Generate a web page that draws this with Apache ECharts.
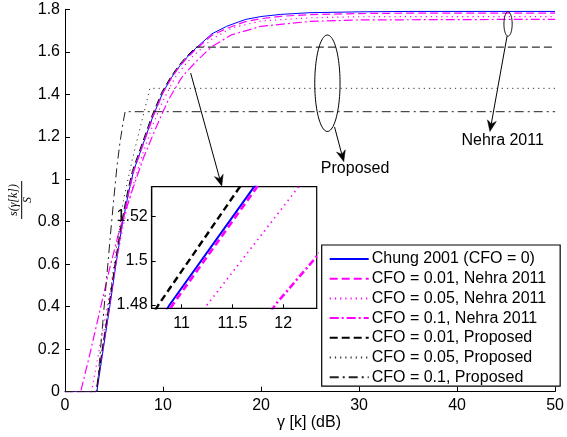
<!DOCTYPE html>
<html>
<head>
<meta charset="utf-8">
<script src="https://cdn.jsdelivr.net/npm/echarts@6/dist/echarts.min.js"></script>
<style>
  html, body { margin: 0; padding: 0; background: #fff; }
  #chart { width: 567px; height: 437px; }
</style>
</head>
<body>
<div id="chart"></div>
<script>
// Normalised spectral efficiency s(gamma[k])/S versus SNR gamma[k] in dB.
const gammaChung = [0, 3.25, 3.9, 4.6, 5.2, 5.85, 6.5, 7.0, 8.0, 9.0, 10.0, 10.88, 11.72, 12.4, 13.3, 15.0, 16.5, 18.4, 20, 22, 25, 30, 35, 50];
const sChung     = [0, 0, 0.2, 0.41, 0.6, 0.79, 0.94, 1.04, 1.17, 1.3, 1.41, 1.48, 1.534, 1.572, 1.615, 1.685, 1.72, 1.752, 1.766, 1.776, 1.784, 1.788, 1.79, 1.79];

const gammaNehra001 = [0, 3.15, 3.85, 4.55, 5.17, 5.85, 6.52, 7.03, 8.03, 9.03, 10.03, 10.91, 11.75, 12.45, 13.35, 15.0, 16.5, 18.4, 20, 22, 25, 30, 35, 50];
const sNehra001     = [0, 0, 0.2, 0.41, 0.6, 0.79, 0.94, 1.04, 1.17, 1.3, 1.41, 1.48, 1.534, 1.571, 1.612, 1.678, 1.71, 1.742, 1.756, 1.767, 1.775, 1.78, 1.782, 1.782];

const gammaNehra005 = [0, 2.7, 3.5, 4.4, 5.3, 6.2, 7.0, 8.0, 9.0, 10.0, 11.25, 12.16, 13.0, 15.0, 17.0, 20.0, 25.0, 30.0, 50];
const sNehra005     = [0, 0, 0.2, 0.42, 0.63, 0.84, 0.98, 1.13, 1.26, 1.37, 1.48, 1.534, 1.577, 1.66, 1.712, 1.745, 1.76, 1.765, 1.766];

const gammaNehra01 = [0, 1.6, 2.5, 3.5, 4.5, 5.55, 6.8, 8.0, 9.3, 10.5, 11.92, 12.33, 13.5, 15.0, 17.0, 20.0, 25.0, 30.0, 50];
const sNehra01     = [0, 0, 0.17, 0.37, 0.57, 0.76, 0.94, 1.1, 1.245, 1.37, 1.48, 1.502, 1.56, 1.625, 1.68, 1.72, 1.743, 1.75, 1.753];

const gammaProp001 = [0, 3.2, 3.8, 4.5, 5.1, 5.74, 6.38, 6.88, 7.88, 8.88, 9.88, 10.77, 11.58, 12.27, 13.35, 50];
const sProp001     = [0, 0, 0.2, 0.41, 0.6, 0.79, 0.94, 1.04, 1.17, 1.3, 1.41, 1.48, 1.534, 1.572, 1.622, 1.622];

const gammaProp005 = [0, 3.2, 3.8, 4.45, 5.1, 5.96, 6.8, 7.65, 8.2, 8.66, 50];
const sProp005     = [0, 0, 0.2, 0.42, 0.63, 0.9, 1.08, 1.24, 1.34, 1.428, 1.428];

const gammaProp01 = [0, 3.25, 3.7, 4.2, 4.6, 4.98, 5.3, 5.6, 5.9, 6.13, 50];
const sProp01     = [0, 0, 0.24, 0.51, 0.72, 0.91, 1.06, 1.17, 1.26, 1.318, 1.318];

const seriesNames = [
  'Chung 2001 (CFO = 0)',
  'CFO = 0.01, Nehra 2011',
  'CFO = 0.05, Nehra 2011',
  'CFO = 0.1, Nehra 2011',
  'CFO = 0.01, Proposed',
  'CFO = 0.05, Proposed',
  'CFO = 0.1, Proposed'
];

// Main axes ticks
const xTicks = [0, 10, 20, 30, 40, 50];
const yTicks = [0, 0.2, 0.4, 0.6, 0.8, 1, 1.2, 1.4, 1.6, 1.8];
// Zoomed inset window and its ticks
const insetXRange = [10.705, 12.33];
const insetYRange = [1.4785, 1.5336];
const insetXTicks = [11, 11.5, 12];
const insetYTicks = [1.48, 1.5, 1.52];

// Annotation anchors, in data units of the main axes
const zoomArrow = { from: [12.82, 1.50], to: [15.99, 0.968] };
const proposedEllipse = { center: [26.77, 1.452], rx: 1.29, ry: 0.227 };
const proposedArrow = { from: [27.5, 1.246], to: [28.44, 1.083] };
const proposedText = { at: [26.1, 1.052], text: 'Proposed' };
const nehraEllipse = { center: [45.2, 1.731], rx: 0.42, ry: 0.0575 };
const nehraArrow = { from: [45.1, 1.674], to: [43.35, 1.225] };
const nehraText = { at: [44.65, 1.18], text: 'Nehra 2011' };

const zip = (xs, ys) => xs.map((x, i) => [x, ys[i]]);
const curves = [
  zip(gammaChung, sChung),
  zip(gammaNehra001, sNehra001),
  zip(gammaNehra005, sNehra005),
  zip(gammaNehra01, sNehra01),
  zip(gammaProp001, sProp001),
  zip(gammaProp005, sProp005),
  zip(gammaProp01, sProp01)
];

// Line appearance for each curve: [colour, dash, main width, inset width, inset dash]
const styles = [
  ['#0000ff', 'solid', 1, 2, 'solid'],
  ['#ff00ff', [8, 4], 1.2, 2.6, [7, 4]],
  ['#ff00ff', [1.2, 4], 1.2, 1.6, [1.5, 4]],
  ['#ff00ff', [9, 3, 2, 3], 1.2, 2.6, [7, 3, 2, 3]],
  ['#000000', [8, 4], 1, 2.4, [7, 4]],
  ['#333333', [1.2, 4], 1, 1.6, [1.5, 4]],
  ['#222222', [9, 4, 2, 4], 1, 2.4, [7, 3, 2, 3]]
];

const FONT = '"Liberation Sans", Arial, Helvetica, sans-serif';

const mainSeries = curves.map((data, i) => ({
  name: seriesNames[i],
  type: 'line',
  xAxisIndex: 0,
  yAxisIndex: 0,
  data: data,
  symbol: 'none',
  animation: false,
  z: 2,
  lineStyle: { color: styles[i][0], type: styles[i][1], width: styles[i][2] },
  itemStyle: { color: styles[i][0] }
}));

const insetSeries = curves.map((data, i) => ({
  name: seriesNames[i],
  type: 'line',
  xAxisIndex: 1,
  yAxisIndex: 1,
  data: data,
  symbol: 'none',
  animation: false,
  clip: true,
  z: 8,
  lineStyle: { color: styles[i][0], type: styles[i][4], width: styles[i][3] },
  itemStyle: { color: styles[i][0] }
}));

const fmt = v => String(Math.round(v * 1000) / 1000);

const chart = echarts.init(document.getElementById('chart'), null, { renderer: 'canvas' });

const option = {
  animation: false,
  backgroundColor: '#ffffff',
  textStyle: { fontFamily: FONT },
  grid: [
    { left: 65, top: 9.3, width: 494, height: 382.4, show: false },
    { left: 151.7, top: 186.7, width: 165, height: 121.6, show: true, z: 6,
      backgroundColor: '#ffffff', borderColor: '#000000', borderWidth: 1.2 }
  ],
  xAxis: [
    {
      type: 'value', gridIndex: 0, min: 0, max: 50, interval: 10,
      axisLine: { show: true, onZero: false, lineStyle: { color: '#000', width: 1 } },
      axisTick: { show: true, inside: true, length: 5, lineStyle: { color: '#000' }, customValues: xTicks },
      axisLabel: { color: '#000', fontSize: 16, fontFamily: FONT, margin: 6, customValues: xTicks, formatter: fmt },
      splitLine: { show: false }
    },
    {
      type: 'value', gridIndex: 1, min: insetXRange[0], max: insetXRange[1],
      axisLine: { show: true, onZero: false, lineStyle: { color: '#000', width: 1.2 } },
      axisTick: { show: true, inside: true, length: 4, lineStyle: { color: '#000' }, customValues: insetXTicks },
      axisLabel: { color: '#000', fontSize: 16, fontFamily: FONT, margin: 7, customValues: insetXTicks, formatter: fmt },
      splitLine: { show: false },
      z: 9
    }
  ],
  yAxis: [
    {
      type: 'value', gridIndex: 0, min: 0, max: 1.8, interval: 0.2,
      axisLine: { show: true, onZero: false, lineStyle: { color: '#000', width: 1 } },
      axisTick: { show: true, inside: true, length: 5, lineStyle: { color: '#000' }, customValues: yTicks },
      axisLabel: { color: '#000', fontSize: 16, fontFamily: FONT, margin: 5, customValues: yTicks, formatter: fmt },
      splitLine: { show: false }
    },
    {
      type: 'value', gridIndex: 1, min: insetYRange[0], max: insetYRange[1],
      axisLine: { show: true, onZero: false, lineStyle: { color: '#000', width: 1.2 } },
      axisTick: { show: true, inside: true, length: 4, lineStyle: { color: '#000' }, customValues: insetYTicks },
      axisLabel: { color: '#000', fontSize: 16, fontFamily: FONT, margin: 4, customValues: insetYTicks, formatter: fmt },
      splitLine: { show: false },
      z: 9
    }
  ],
  legend: {
    data: seriesNames,
    orient: 'vertical',
    left: 321.7,
    top: 245,
    itemWidth: 39,
    itemHeight: 16,
    itemGap: 3.7,
    padding: [6, 14, 1, 7],
    backgroundColor: '#ffffff',
    borderColor: '#000000',
    borderWidth: 1.2,
    borderRadius: 0,
    selectedMode: false,
    z: 10,
    itemStyle: { opacity: 0, borderWidth: 0 },
    textStyle: { color: '#000', fontSize: 16, fontFamily: FONT, padding: [0, 0, 0, -2] }
  },
  series: mainSeries.concat(insetSeries)
};

chart.setOption(option);

// Annotations placed through the main axes' coordinate system
function toPx(p) { return chart.convertToPixel({ gridIndex: 0 }, p); }

function arrow(from, to) {
  const a = toPx(from), b = toPx(to);
  const dx = b[0] - a[0], dy = b[1] - a[1];
  const len = Math.hypot(dx, dy);
  const ux = dx / len, uy = dy / len, nx = -uy, ny = ux;
  const L = 11, W = 4.5;
  const back = [b[0] - L * ux, b[1] - L * uy];
  const notch = [b[0] - 0.7 * L * ux, b[1] - 0.7 * L * uy];
  return [
    { type: 'line', z: 20, silent: true,
      shape: { x1: a[0], y1: a[1], x2: notch[0], y2: notch[1] },
      style: { stroke: '#000', lineWidth: 1 } },
    { type: 'polygon', z: 20, silent: true,
      shape: { points: [b, [back[0] + W * nx, back[1] + W * ny], notch, [back[0] - W * nx, back[1] - W * ny]] },
      style: { fill: '#000', stroke: '#000', lineWidth: 0.5 } }
  ];
}

function ellipse(e) {
  const c = toPx(e.center);
  const ex = toPx([e.center[0] + e.rx, e.center[1]]);
  const ey = toPx([e.center[0], e.center[1] + e.ry]);
  const rx = Math.abs(ex[0] - c[0]), ry = Math.abs(ey[1] - c[1]);
  const pts = [];
  for (let k = 0; k < 90; k++) {
    const t = (k / 90) * Math.PI * 2;
    pts.push([c[0] + rx * Math.cos(t), c[1] + ry * Math.sin(t)]);
  }
  return { type: 'polygon', z: 20, silent: true, shape: { points: pts },
    style: { fill: null, stroke: '#000', lineWidth: 1 } };
}

function label(t, align) {
  const p = toPx(t.at);
  return { type: 'text', z: 20, silent: true, x: p[0], y: p[1],
    style: { text: t.text, fill: '#000', font: '16px ' + FONT, textAlign: align, textVerticalAlign: 'middle' } };
}

const gridLeft = 65, gridBottom = 391.7, gridCenterX = 65 + 494 / 2;
const yLabelY = 200;

const graphics = []
  .concat(arrow(zoomArrow.from, zoomArrow.to))
  .concat([ellipse(proposedEllipse)])
  .concat(arrow(proposedArrow.from, proposedArrow.to))
  .concat([label(proposedText, 'left')])
  .concat([ellipse(nehraEllipse)])
  .concat(arrow(nehraArrow.from, nehraArrow.to))
  .concat([label(nehraText, 'center')])
  .concat([
    // x-axis title
    { type: 'text', z: 20, silent: true, x: gridCenterX - 3, y: gridBottom + 31,
      style: { text: 'γ [k] (dB)', fill: '#000', font: '16px ' + FONT, textAlign: 'center', textVerticalAlign: 'middle' } },
    // y-axis title: fraction s(γ[k]) / S, written bottom to top
    { type: 'text', z: 20, silent: true, x: 14, y: yLabelY, rotation: Math.PI / 2,
      style: { text: 's(γ[k])', fill: '#000', font: 'italic 12px "Liberation Serif", "DejaVu Serif", serif', textAlign: 'center', textVerticalAlign: 'middle' } },
    { type: 'line', z: 20, silent: true,
      shape: { x1: 21.7, y1: yLabelY - 19, x2: 21.7, y2: yLabelY + 19 },
      style: { stroke: '#000', lineWidth: 1 } },
    { type: 'text', z: 20, silent: true, x: 28, y: yLabelY, rotation: Math.PI / 2,
      style: { text: 'S', fill: '#000', font: 'italic 12px "Liberation Serif", "DejaVu Serif", serif', textAlign: 'center', textVerticalAlign: 'middle' } }
  ]);

chart.setOption({ graphic: graphics });
</script>
</body>
</html>
